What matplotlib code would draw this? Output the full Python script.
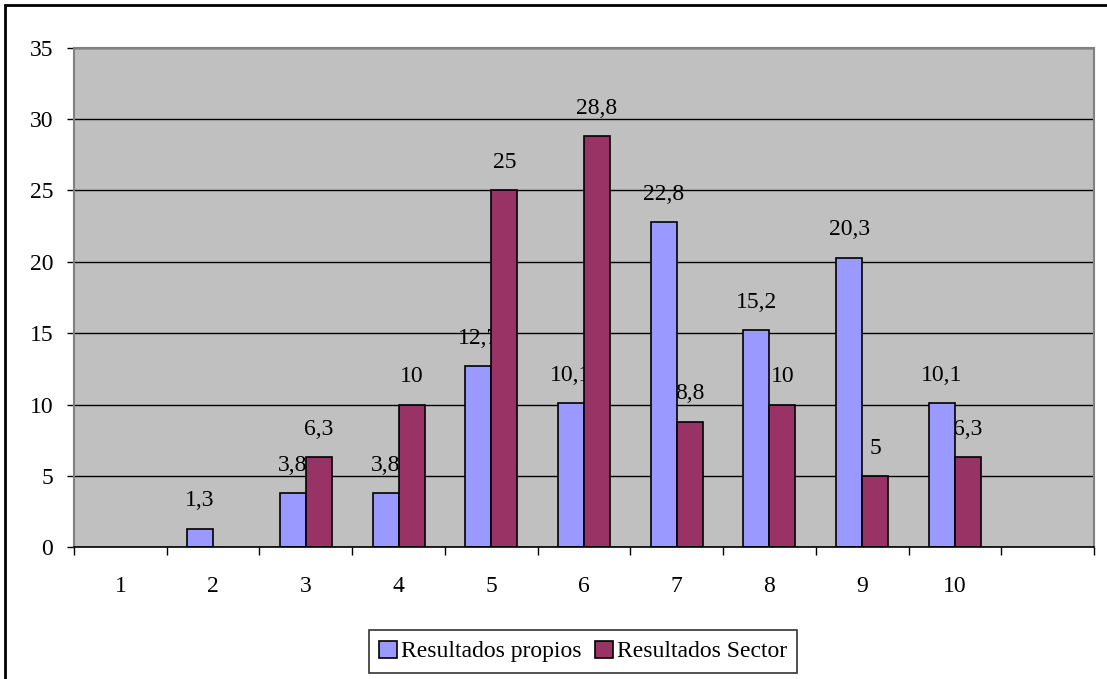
import matplotlib
matplotlib.use("Agg")
import matplotlib.pyplot as plt
from matplotlib.patches import Rectangle, Patch
import numpy as np

categories = ["1", "2", "3", "4", "5", "6", "7", "8", "9", "10"]
propios = [None, 1.3, 3.8, 3.8, 12.7, 10.1, 22.8, 15.2, 20.3, 10.1]
sector = [None, None, 6.3, 10, 25, 28.8, 8.8, 10, 5, 6.3]
series_names = ["Resultados propios", "Resultados Sector"]
colors = ["#9999FF", "#993366"]

plt.rcParams['font.family'] = ['Liberation Serif', 'DejaVu Serif']
FS = 17

fig = plt.figure(figsize=(11.07, 6.79), dpi=100)
ax = fig.add_axes([74/1107, 1-547.3/679, (1094-74)/1107, (547.3-47.7)/679])
ax.set_facecolor("#C0C0C0")

n_slots = len(categories) + 1
x = np.arange(len(categories))
w = 0.28

def fmt(v):
    s = f"{v:g}"
    return s.replace(".", ",")

for k, (vals, col) in enumerate(zip([propios, sector], colors)):
    off = (-0.5 + k) * w
    for xi, v in zip(x, vals):
        if v is None:
            continue
        ax.bar(xi + off, v, width=w, color=col, edgecolor="black", linewidth=1.2, zorder=2)
        ax.annotate(fmt(v), (xi + off, v), xytext=(0, 20), textcoords="offset points",
                    ha="center", va="center", fontsize=FS, zorder=1.5)

ax.set_xlim(-0.5, n_slots - 0.5)
ax.set_ylim(0, 35)
ax.set_yticks(np.arange(0, 36, 5))
ax.yaxis.grid(True, color="black", linewidth=1, zorder=0.5)
ax.set_axisbelow(True)

ax.set_xticks(x)
ax.set_xticklabels(categories)
ax.set_xticks(np.arange(-0.5, n_slots, 1.0), minor=True)
ax.tick_params(axis="x", which="major", length=0, pad=21, labelsize=FS)
ax.tick_params(axis="x", which="minor", length=6, width=1, color="black", direction="out")
ax.tick_params(axis="y", length=5, width=1, pad=10, labelsize=FS, color="black")

for s in ["top", "right", "left"]:
    ax.spines[s].set_color("#808080")
    ax.spines[s].set_linewidth(1.5)
ax.spines["bottom"].set_color("black")
ax.spines["bottom"].set_linewidth(1.2)

handles = [Patch(facecolor=c, edgecolor="black", linewidth=1.2) for c in colors]
leg = fig.legend(handles, series_names, loc="center", bbox_to_anchor=(583/1107, 1-651.5/679),
                 ncol=2, fontsize=FS, frameon=True, fancybox=False, edgecolor="black",
                 handlelength=0.75, handleheight=0.75, handletextpad=0.15, columnspacing=0.6,
                 borderpad=0.45)
leg.get_frame().set_linewidth(1.2)

fig.patches.append(Rectangle((5/1107, -0.05), 1.2, 1.05 - 5/679, transform=fig.transFigure,
                             fill=False, edgecolor="black", linewidth=2, clip_on=False))

fig.savefig("out.png", dpi=100)
